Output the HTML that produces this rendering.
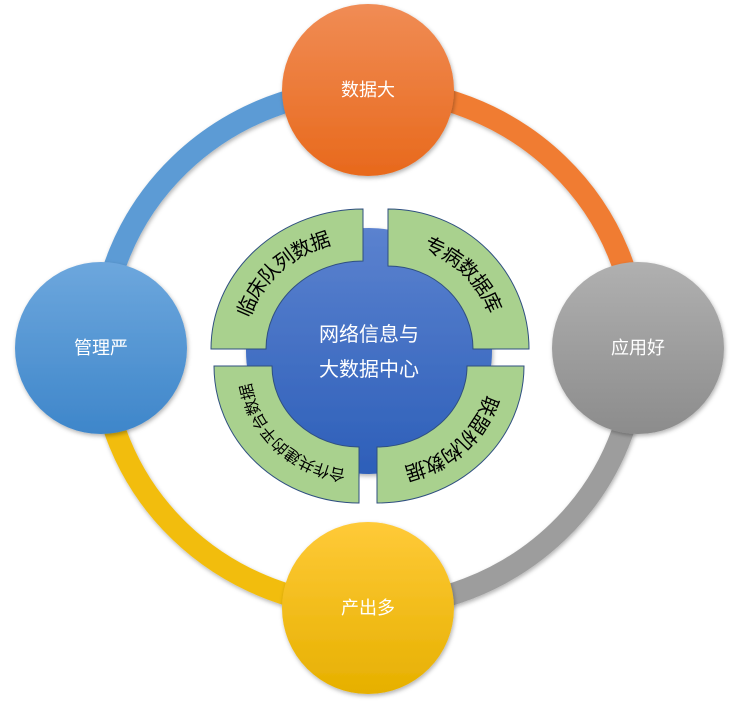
<!DOCTYPE html>
<html><head><meta charset="utf-8"><style>
html,body{margin:0;padding:0;background:#fff;}
svg{display:block;}
text{font-family:"Liberation Sans","Noto Sans CJK SC",sans-serif;}
</style></head><body>
<svg width="736" height="703" viewBox="0 0 736 703" xmlns="http://www.w3.org/2000/svg">
<defs>
<linearGradient id="gO" x1="0" y1="0" x2="0" y2="1"><stop offset="0" stop-color="#f08c55"/><stop offset="1" stop-color="#e8691c"/></linearGradient>
<linearGradient id="gB" x1="0" y1="0" x2="0" y2="1"><stop offset="0" stop-color="#6da7dd"/><stop offset="1" stop-color="#3e86ca"/></linearGradient>
<linearGradient id="gG" x1="0" y1="0" x2="0" y2="1"><stop offset="0" stop-color="#b0b0b0"/><stop offset="1" stop-color="#8c8c8c"/></linearGradient>
<linearGradient id="gY" x1="0" y1="0" x2="0" y2="1"><stop offset="0" stop-color="#ffca38"/><stop offset="1" stop-color="#e6b000"/></linearGradient>
<linearGradient id="gC" x1="0" y1="0" x2="0" y2="1"><stop offset="0" stop-color="#5b82cf"/><stop offset="1" stop-color="#2d5fb9"/></linearGradient>
<filter id="sh" x="-20%" y="-20%" width="140%" height="140%"><feDropShadow dx="1" dy="2" stdDeviation="2" flood-color="#000" flood-opacity="0.3"/></filter>
<path id="pTL" d="M239,349 A124,114 0 0 1 363,235"/>
<path id="pTR" d="M388,238 A113,111 0 0 1 501,349"/>
<path id="pBL" d="M361,476 A116,108 0 0 1 245,368"/>
<path id="pBR" d="M495,368 A118,108 0 0 1 377,476"/>
</defs>
<!-- ring -->
<g fill="none" stroke-width="22" filter="url(#sh)">
<path d="M101,348 A268,259 0 0 1 369,89" stroke="#5b9bd5"/>
<path d="M369,89 A268,259 0 0 1 637,348" stroke="#f07b30"/>
<path d="M637,348 A268,259 0 0 1 369,607" stroke="#9d9d9d"/>
<path d="M369,607 A268,259 0 0 1 101,348" stroke="#f2bd0c"/>
</g>
<!-- nodes -->
<g filter="url(#sh)">
<circle cx="368" cy="90" r="86" fill="url(#gO)"/>
<circle cx="101" cy="348" r="86" fill="url(#gB)"/>
<circle cx="638" cy="348" r="86" fill="url(#gG)"/>
<circle cx="368" cy="608" r="86" fill="url(#gY)"/>
<circle cx="369" cy="351" r="123" fill="url(#gC)"/>
</g>
<g fill="#fff" font-size="18" text-anchor="middle">
<text x="368" y="96">数据大</text>
<text x="101" y="354">管理严</text>
<text x="638" y="354">应用好</text>
<text x="368" y="614">产出多</text>
</g>
<g fill="#fff" font-size="20" text-anchor="middle">
<text x="369" y="341">网络信息与</text>
<text x="369" y="376">大数据中心</text>
</g>
<!-- sectors -->
<g fill="#a9d18e" stroke="#2f4f80" stroke-width="1">
<path d="M211,349 A152,140 0 0 1 363,209 L363,261 A97,88 0 0 0 266,349 Z"/>
<path d="M388,209 A141,140 0 0 1 529,349 L473,349 A85,83 0 0 0 388,266 Z"/>
<path d="M214,366 L272,366 A87,81 0 0 0 359,447 L359,503 A145,137 0 0 1 214,366 Z"/>
<path d="M524,366 L467,366 A90,81 0 0 1 377,447 L377,503 A147,137 0 0 0 524,366 Z"/>
</g>
<g fill="#000" text-anchor="middle" dominant-baseline="central">
<text font-size="20"><textPath href="#pTL" startOffset="50%">临床队列数据</textPath></text>
<text font-size="20"><textPath href="#pTR" startOffset="50%">专病数据库</textPath></text>
<text font-size="16"><textPath href="#pBL" startOffset="50%">合作共建的平台数据</textPath></text>
<text font-size="20"><textPath href="#pBR" startOffset="50%">联盟机构数据</textPath></text>
</g>
</svg>
</body></html>
